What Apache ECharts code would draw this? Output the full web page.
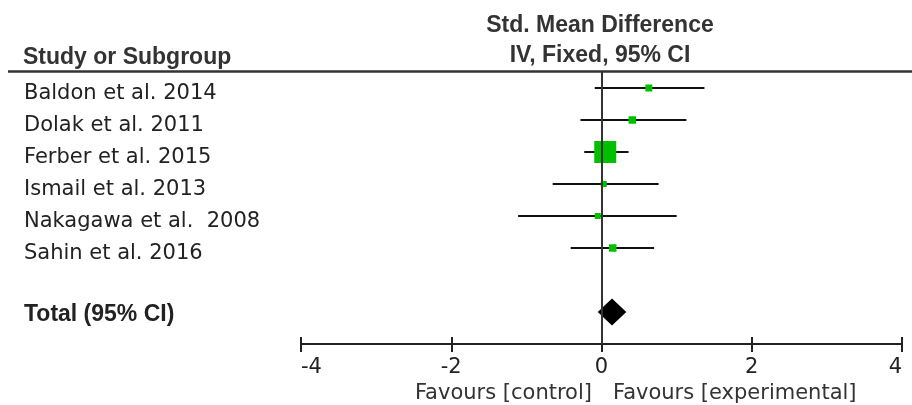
<!DOCTYPE html>
<html>
<head>
<meta charset="utf-8">
<script src="https://cdn.jsdelivr.net/npm/echarts@6/dist/echarts.min.js"></script>
<style>html,body{margin:0;padding:0;background:#fff;}#c{width:912px;height:405px;}</style>
</head>
<body>
<div id="c"></div>
<script>
// ---- data ----
const studies = ['Baldon et al. 2014', 'Dolak et al. 2011', 'Ferber et al. 2015', 'Ismail et al. 2013', 'Nakagawa et al.  2008', 'Sahin et al. 2016'];
const smd = [0.63, 0.41, 0.05, 0.03, -0.05, 0.15];
const ciLow = [-0.09, -0.28, -0.23, -0.65, -1.11, -0.41];
const ciHigh = [1.37, 1.13, 0.36, 0.76, 1.00, 0.70];
const weights = [6.8, 7.8, 67.5, 5.0, 5.0, 7.8];
const totalLabel = 'Total (95% CI)';
const totalRow = 7;
const totalSmd = 0.14;
const totalLow = -0.05;
const totalHigh = 0.33;
const xMin = -4, xMax = 4, xStep = 2;
const headerLeft = 'Study or Subgroup';
const headerRight1 = 'Std. Mean Difference';
const headerRight2 = 'IV, Fixed, 95% CI';
const favLeft = 'Favours [control]';
const favRight = 'Favours [experimental]';

const chart = echarts.init(document.getElementById('c'));
const normalFont = '"DejaVu Sans", sans-serif';
const boldFont = '"Liberation Sans", Arial, sans-serif';
const maxW = Math.max.apply(null, weights);

const studyData = studies.map((s, i) => [i, smd[i], ciLow[i], ciHigh[i], weights[i]]);

chart.setOption({
  animation: false,
  backgroundColor: '#fff',
  grid: { left: 301, right: 10, top: 72, bottom: 61 },
  xAxis: [{
    type: 'value', min: xMin, max: xMax, interval: xStep, position: 'bottom',
    axisLine: { show: true, onZero: false, lineStyle: { color: '#222', width: 2 } },
    axisTick: { show: true, length: 8, lineStyle: { color: '#222', width: 2 } },
    axisLabel: { fontFamily: normalFont, fontSize: 21, color: '#222', margin: 13,
      alignMinLabel: 'left', alignMaxLabel: 'right' },
    splitLine: { show: false }
  }, {
    type: 'value', min: xMin, max: xMax, interval: xStep, position: 'bottom',
    axisLine: { show: true, onZero: false, lineStyle: { color: '#222', width: 2 } },
    axisTick: { show: true, inside: true, length: 7, lineStyle: { color: '#222', width: 2 } },
    axisLabel: { show: false },
    splitLine: { show: false }
  }],
  yAxis: { type: 'value', min: -0.5, max: 8, inverse: true, show: false },
  series: [{
    type: 'custom',
    clip: false,
    data: studyData,
    encode: { x: [1, 2, 3], y: 0 },
    renderItem: function (params, api) {
      const k = api.value(0);
      const p = api.coord([api.value(1), k]);
      const l = api.coord([api.value(2), k]);
      const h = api.coord([api.value(3), k]);
      const size = 22 * Math.sqrt(api.value(4) / maxW);
      return {
        type: 'group',
        children: [
          { type: 'line', shape: { x1: l[0], y1: p[1], x2: h[0], y2: p[1] },
            style: { stroke: '#111', lineWidth: 2 } },
          { type: 'rect', shape: { x: p[0] - size / 2, y: p[1] - size / 2, width: size, height: size },
            style: { fill: '#00c000' } },
          { type: 'text', x: 24, y: p[1] + 6,
            style: { text: studies[params.dataIndex], fontFamily: normalFont, fontSize: 21,
              fill: '#222', textAlign: 'left', textVerticalAlign: 'middle' } }
        ]
      };
    },
    markLine: {
      silent: true, symbol: ['none', 'none'], label: { show: false },
      lineStyle: { color: '#333', width: 2, type: 'solid' },
      data: [{ xAxis: 0 }]
    },
    z: 3
  }, {
    type: 'custom',
    clip: false,
    data: [[totalRow, totalSmd, totalLow, totalHigh]],
    encode: { x: [1, 2, 3], y: 0 },
    renderItem: function (params, api) {
      const k = api.value(0);
      const p = api.coord([api.value(1), k]);
      const l = api.coord([api.value(2), k]);
      const h = api.coord([api.value(3), k]);
      const hh = 13.5;
      return {
        type: 'group',
        children: [
          { type: 'polygon', shape: { points: [[l[0], p[1]], [p[0], p[1] - hh], [h[0], p[1]], [p[0], p[1] + hh]] },
            style: { fill: '#000' } },
          { type: 'text', x: 24, y: p[1] + 3,
            style: { text: totalLabel, fontFamily: boldFont, fontWeight: 'bold', fontSize: 23,
              fill: '#222', textAlign: 'left', textVerticalAlign: 'middle' } }
        ]
      };
    },
    z: 4
  }],
  graphic: [
    { type: 'line', shape: { x1: 8, y1: 71.5, x2: 912, y2: 71.5 }, style: { stroke: '#333', lineWidth: 2.5 }, z: 10 },
    { type: 'text', x: 600, y: 26, style: { text: headerRight1, fontFamily: boldFont, fontWeight: 'bold', fontSize: 23, fill: '#333', textAlign: 'center', textVerticalAlign: 'middle' } },
    { type: 'text', x: 600, y: 56, style: { text: headerRight2, fontFamily: boldFont, fontWeight: 'bold', fontSize: 23, fill: '#333', textAlign: 'center', textVerticalAlign: 'middle' } },
    { type: 'text', x: 23, y: 58, style: { text: headerLeft, fontFamily: boldFont, fontWeight: 'bold', fontSize: 23, fill: '#333', textAlign: 'left', textVerticalAlign: 'middle' } },
    { type: 'text', x: 592, y: 394, style: { text: favLeft, fontFamily: normalFont, fontSize: 21, fill: '#333', textAlign: 'right', textVerticalAlign: 'middle' } },
    { type: 'text', x: 613, y: 394, style: { text: favRight, fontFamily: normalFont, fontSize: 21, fill: '#333', textAlign: 'left', textVerticalAlign: 'middle' } }
  ]
});
</script>
</body>
</html>
